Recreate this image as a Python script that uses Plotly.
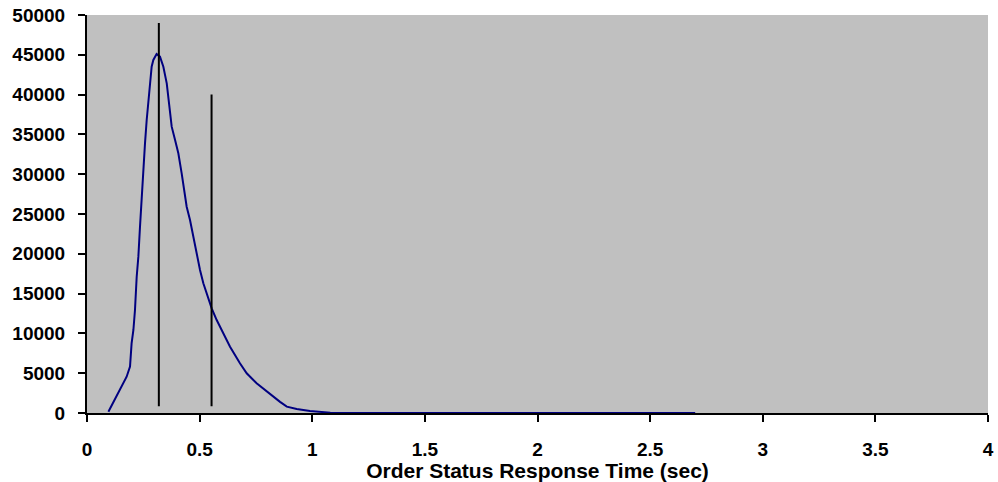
import plotly.graph_objects as go

# Response time distribution (sec vs count)
resp_time = [0.095, 0.1465, 0.176, 0.191, 0.198, 0.206, 0.213, 0.2206, 0.228, 0.2353,
             0.2427, 0.25, 0.2575, 0.265, 0.272, 0.2797, 0.287, 0.2945, 0.309, 0.324,
             0.339, 0.354, 0.368, 0.376, 0.391, 0.4055, 0.4203, 0.4425, 0.4573, 0.472,
             0.487, 0.5017, 0.5165, 0.531, 0.5535, 0.5757, 0.605, 0.635, 0.679, 0.709,
             0.753, 0.798, 0.857, 0.887, 0.931, 0.99, 1.08, 1.2, 1.5, 2.0, 2.5, 2.7]
counts = [150, 2890, 4560, 5820, 8750, 10430, 12940, 17120, 19640, 23410,
          27180, 30530, 33880, 36810, 38900, 40990, 43500, 44350, 45100, 44760,
          43500, 41420, 38070, 35970, 34300, 32630, 30110, 25920, 24250, 22150,
          20060, 17970, 16290, 15030, 13150, 11680, 10010, 8330, 6240, 4990,
          3730, 2680, 1400, 800, 500, 250, 40, 10, 4, 2, 1, 0]

# Marker lines (x position, bottom, top)
marker_x = [0.319, 0.553]
marker_bottom = [850, 850]
marker_top = [49000, 40000]

x_ticks = [0, 0.5, 1, 1.5, 2, 2.5, 3, 3.5, 4]
x_ticklabels = ["0", "0.5", "1", "1.5", "2", "2.5", "3", "3.5", "4"]
y_ticks = list(range(0, 50001, 5000))
y_ticklabels = [str(v) for v in y_ticks]

fig = go.Figure()
fig.add_trace(go.Scatter(x=resp_time, y=counts, mode="lines",
                         line=dict(color="#000080", width=2),
                         showlegend=False, hoverinfo="x+y"))
for mx, mb, mt in zip(marker_x, marker_bottom, marker_top):
    fig.add_trace(go.Scatter(x=[mx, mx], y=[mb, mt], mode="lines",
                             line=dict(color="black", width=2), showlegend=False))

tick_font = dict(family="Liberation Sans, Arial, sans-serif", size=19, color="black")
title_font = dict(family="Liberation Sans, Arial, sans-serif", size=21, color="black")
fig.update_layout(
    width=998, height=482,
    margin=dict(l=87, r=10, t=15, b=69, autoexpand=False),
    paper_bgcolor="white", plot_bgcolor="#C0C0C0",
    font=tick_font,
    xaxis=dict(range=[0, 4], tickmode="array", tickvals=x_ticks,
               ticktext=["<b>%s</b>" % t for t in x_ticklabels],
               tickfont=tick_font, automargin=False, ticklabelstandoff=11,
               showgrid=False, zeroline=False, showline=True, linecolor="black", linewidth=2,
               ticks="outside", ticklen=7, tickwidth=2, tickcolor="black",
               title=dict(text="<b>Order Status Response Time (sec)</b>", standoff=3,
                          font=title_font)),
    yaxis=dict(range=[0, 50000], tickmode="array", tickvals=y_ticks,
               ticktext=["<b>%s</b>" % t for t in y_ticklabels],
               tickfont=tick_font, automargin=False, ticklabelstandoff=9,
               showgrid=False, zeroline=False, showline=True, linecolor="black", linewidth=2,
               ticks="outside", ticklen=7, tickwidth=2, tickcolor="black"),
)
fig.write_html("out.html", config={"displayModeBar": False},
               post_script="document.body.style.margin='0';document.body.style.overflow='hidden';")
